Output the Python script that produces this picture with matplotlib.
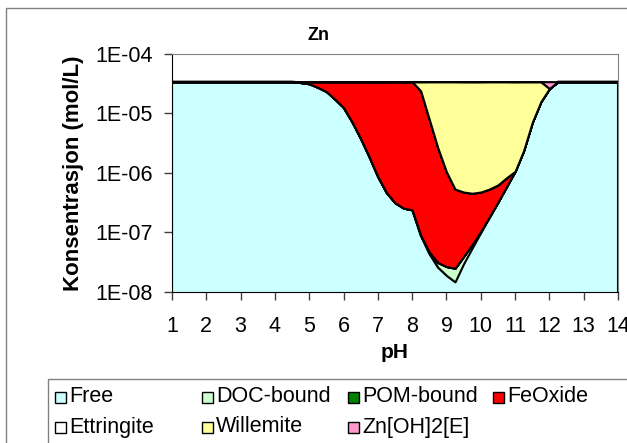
import numpy as np
import matplotlib
matplotlib.use('Agg')
import matplotlib.pyplot as plt
from matplotlib.patches import Rectangle
from matplotlib.ticker import FuncFormatter, NullLocator

plt.rcParams['font.family'] = ['Liberation Sans', 'DejaVu Sans']

### Zn speciation (mol/L) vs pH, stacked
ph = [1, 1.5, 2, 2.5, 3, 3.5, 4, 4.5,
      4.75, 5, 5.25, 5.5, 5.75, 6, 6.25, 6.5, 6.75, 7, 7.25, 7.5, 7.75, 8,
      8.25, 8.5, 8.75, 9, 9.25, 9.5, 9.75, 10, 10.25, 10.5, 10.75, 11,
      11.25, 11.5, 11.75, 12, 12.25, 12.5, 13, 13.5, 14]

free = [3.43e-5] * 8 + [
    3.31e-5, 3.16e-5, 2.75e-5, 2.34e-5, 1.74e-5, 1.26e-5, 7.2e-6, 3.8e-6,
    1.86e-6, 8.7e-7, 4.7e-7, 3.16e-7, 2.57e-7, 2.40e-7,
    8.9e-8, 4.4e-8, 2.6e-8, 1.9e-8, 1.48e-8, 3.0e-8, 5.5e-8, 1.0e-7,
    1.82e-7, 3.24e-7, 5.9e-7, 1.07e-6,
    2.4e-6, 7.1e-6, 1.58e-5, 2.63e-5, 3.43e-5, 3.43e-5, 3.43e-5, 3.43e-5, 3.43e-5]

doc_bound = [0] * 22 + [
    1e-9, 3e-9, 5.3e-9, 7.8e-9, 1.03e-8, 9.6e-9, 8e-9, 5e-9, 1e-9,
    0, 0, 0, 0, 0, 0, 0, 0, 0, 0, 0, 0]

pom_bound = [0] * 43

feoxide = [0] * 8 + [
    1.2e-6, 2.7e-6, 6.8e-6, 1.09e-5, 1.69e-5, 2.17e-5, 2.71e-5, 3.05e-5,
    3.24e-5, 3.34e-5, 3.38e-5, 3.40e-5, 3.40e-5, 3.41e-5,
    2.39e-5, 7.89e-6, 2.60e-6, 1.02e-6, 5.12e-7, 4.39e-7, 3.94e-7, 3.74e-7,
    3.54e-7, 3.07e-7, 2.42e-7, 0,
    0, 0, 0, 0, 0, 0, 0, 0, 0]

ettringite = [0] * 43

willemite = [0] * 22 + [
    1.03e-5, 2.64e-5, 3.17e-5, 3.33e-5, 3.38e-5, 3.38e-5, 3.38e-5, 3.38e-5,
    3.38e-5, 3.37e-5, 3.35e-5, 3.32e-5,
    3.19e-5, 2.72e-5, 1.85e-5, 0, 0, 0, 0, 0, 0]

znoh2 = [0] * 37 + [8.0e-6, 0, 0, 0, 0, 0]

labels = ['Free', 'DOC-bound', 'POM-bound', 'FeOxide',
          'Ettringite', 'Willemite', 'Zn[OH]2[E]']
colors = ['#CCFFFF', '#CCFFCC', '#008000', '#FF0000',
          '#FFFFFF', '#FFFF99', '#FF99CC']

W, H = 627, 443
fig = plt.figure(figsize=(W / 100, H / 100), dpi=100)
ax = fig.add_axes([172 / W, 1 - 292 / H, 446 / W, 238 / H])

ax.stackplot(ph, free, doc_bound, pom_bound, feoxide, ettringite, willemite, znoh2,
             colors=colors, edgecolor='black', linewidth=1.5)
ax.set_yscale('log')
ax.set_xlim(1, 14)
ax.set_ylim(1e-8, 1e-4)
ax.set_xticks(range(1, 15))
ax.set_yticks([1e-8, 1e-7, 1e-6, 1e-5, 1e-4])
ax.yaxis.set_minor_locator(NullLocator())
ax.yaxis.set_major_formatter(FuncFormatter(lambda v, p: '1E-%02d' % round(-np.log10(v))))
ax.tick_params(axis='both', direction='out', length=6, width=1, color='#404040', labelsize=15.5)
ax.tick_params(axis='x', pad=11)
ax.tick_params(axis='y', pad=8)
for s in ['top', 'right']:
    ax.spines[s].set_color('#808080')
for s in ['left', 'bottom']:
    ax.spines[s].set_color('black')

ax.set_xlabel('pH', fontsize=15, fontweight='bold')
ax.xaxis.set_label_coords(0.5, (H - 352 - 151) / 238)
ax.xaxis.label.set_va('center')
ax.set_ylabel('Konsentrasjon (mol/L)', fontsize=16, fontweight='bold')
ax.yaxis.set_label_coords((73 - 172) / 446, 0.5)
ax.yaxis.label.set_va('center')
fig.text(318 / W, 1 - 35 / H, 'Zn', fontsize=13, fontweight='bold', ha='center', va='center')

# chart border and legend box (run off the bottom/right edge like the original)
fig.add_artist(Rectangle((6 / W, -0.1), 1.2, 1 - 8 / H + 0.1, transform=fig.transFigure,
                         fill=False, edgecolor='#808080', lw=1))
fig.add_artist(Rectangle((48 / W, -0.1), 1.2, (H - 379) / H + 0.1, transform=fig.transFigure,
                         fill=False, edgecolor='#808080', lw=1))

col_x = [55, 202, 348, 493]
row_y = [397, 427]
for i, (lab, c) in enumerate(zip(labels, colors)):
    x = col_x[i % 4]
    y = row_y[i // 4]
    fig.add_artist(Rectangle((x / W, 1 - (y + 5.5) / H), 11 / W, 11 / H, transform=fig.transFigure,
                             facecolor=c, edgecolor='black', lw=1))
    fig.text((x + 14) / W, 1 - y / H, lab, fontsize=15.5, ha='left', va='center')

fig.savefig('out.png', dpi=100)
